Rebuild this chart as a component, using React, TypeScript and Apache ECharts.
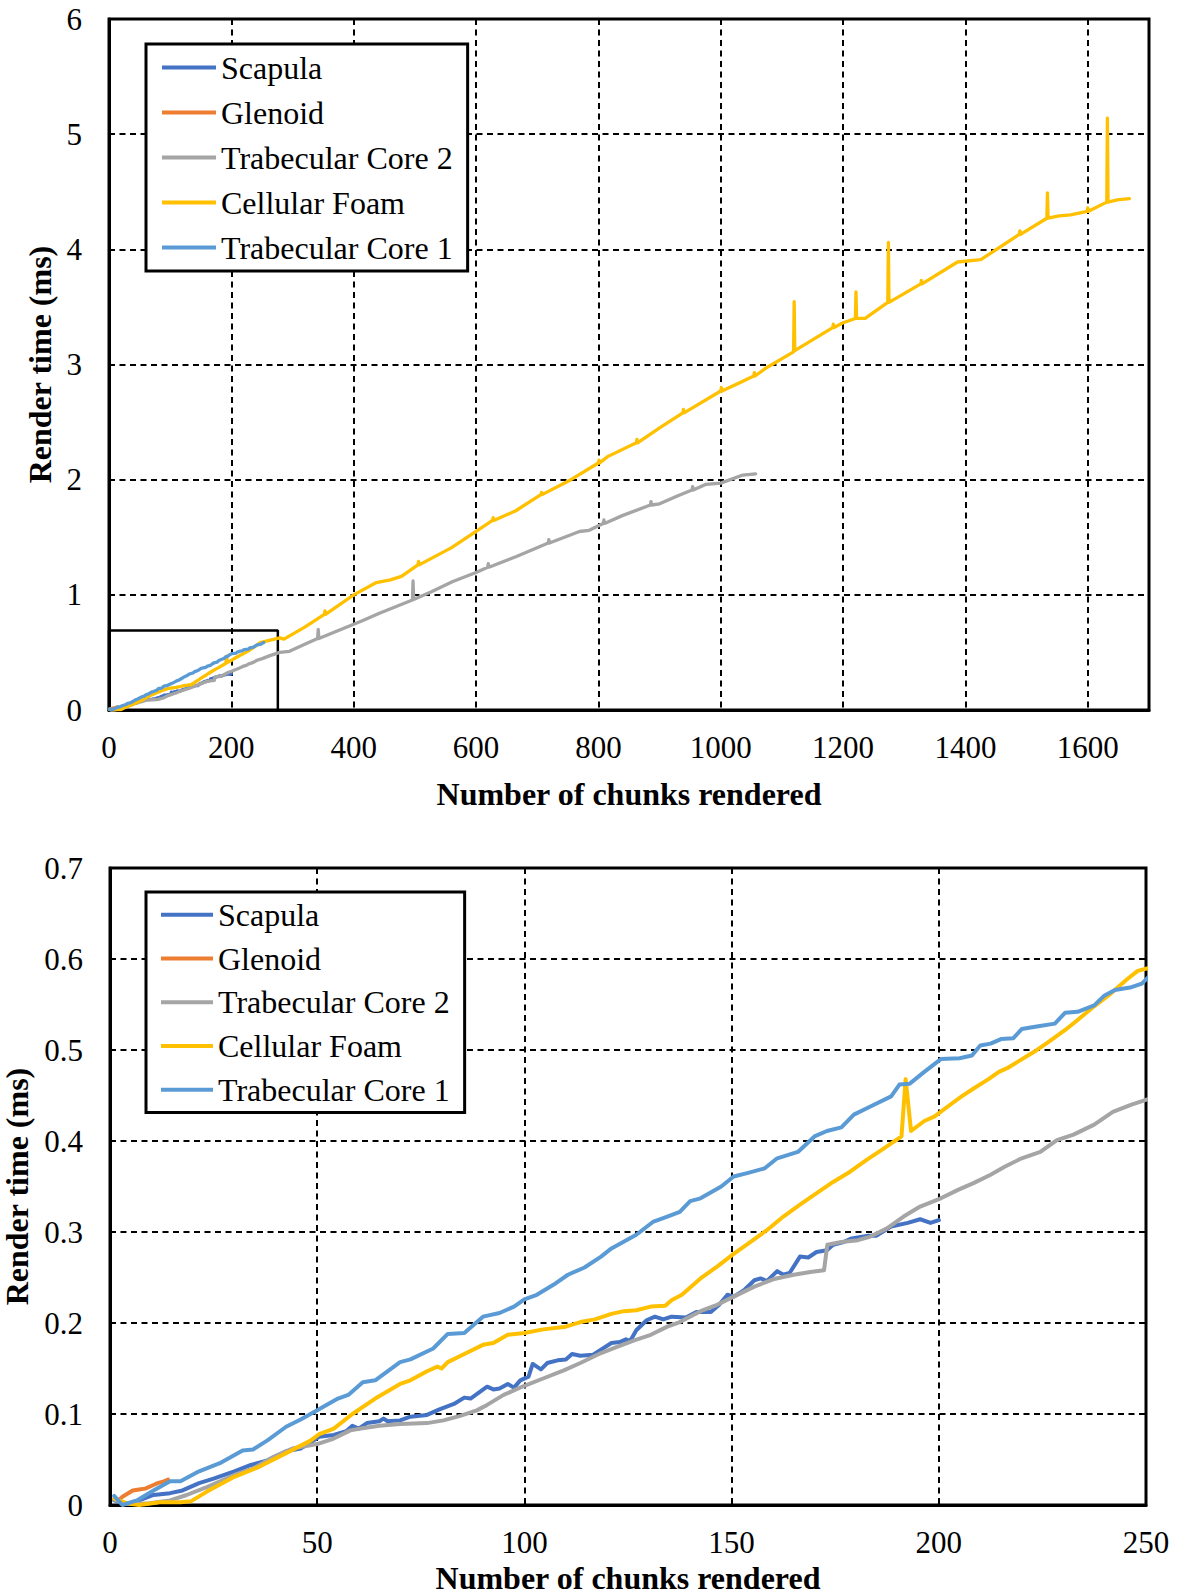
import React, { useEffect, useRef } from 'react';
import * as echarts from 'echarts';

const seriesNames = ['Scapula', 'Glenoid', 'Trabecular Core 2', 'Cellular Foam', 'Trabecular Core 1'];
const seriesColors = ['#4472C4', '#ED7D31', '#A5A5A5', '#FFC000', '#5B9BD5'];

const scapula: [number, number][] = [
  [1, 0.005], [4, 0.001], [7, 0.005], [10.5, 0.011], [14.5, 0.013], [17.5, 0.016], [21.5, 0.024], [25, 0.029],
  [30, 0.037], [34, 0.044], [38, 0.049], [42.5, 0.059], [46, 0.062], [50.5, 0.075], [54, 0.077], [57, 0.081],
  [58.5, 0.087], [60, 0.084], [62, 0.09], [65, 0.092], [66, 0.095], [67, 0.092], [70, 0.093], [72.5, 0.097],
  [76.5, 0.099], [79.5, 0.105], [83, 0.111], [85.5, 0.118], [87, 0.117], [91, 0.13], [92.5, 0.127], [94, 0.128],
  [96, 0.133], [97.5, 0.129], [99, 0.137], [101, 0.141], [102, 0.155], [104, 0.149], [105.5, 0.156], [108, 0.159],
  [110, 0.16], [111.5, 0.166], [113.5, 0.164], [116.5, 0.165], [121, 0.178], [123, 0.179], [124.5, 0.182],
  [125.5, 0.18], [127, 0.192], [129.5, 0.203], [131.5, 0.207], [133.5, 0.204], [135.5, 0.207], [139, 0.206],
  [141.5, 0.212], [145, 0.212], [147, 0.22], [149, 0.231], [150.5, 0.229], [153, 0.236], [155.5, 0.247],
  [157, 0.249], [158.5, 0.246], [161, 0.257], [162.5, 0.253], [164, 0.255], [166.5, 0.273], [168.5, 0.272],
  [170.5, 0.278], [173, 0.28], [174.5, 0.286], [177, 0.289], [179, 0.293], [183, 0.296], [185, 0.296],
  [188.5, 0.306], [192.5, 0.31], [195.5, 0.314], [198, 0.31], [200, 0.313],
];

const glenoid: [number, number][] = [
  [2, 0.005], [3, 0.009], [5.5, 0.016], [7, 0.017], [8.5, 0.018], [10.5, 0.022], [11.5, 0.024], [13, 0.026], [14, 0.028],
];

const trabecularCore2: [number, number][] = [
  [1, 0.006], [4, 0.001], [9.5, 0.002], [14.5, 0.005], [18.5, 0.011], [23.5, 0.02], [30, 0.033], [34.5, 0.04],
  [39.5, 0.053], [44, 0.062], [50, 0.067], [54, 0.073], [58, 0.082], [60.5, 0.084], [65, 0.087], [70, 0.089],
  [76.5, 0.09], [80.5, 0.093], [84.5, 0.098], [88.5, 0.104], [91, 0.11], [95, 0.121], [100, 0.131], [104.5, 0.139],
  [109.5, 0.148], [113.5, 0.156], [118.5, 0.167], [122.5, 0.174], [126.5, 0.181], [130.5, 0.187], [134.5, 0.196],
  [137.5, 0.201], [142.5, 0.213], [146.5, 0.22], [150.5, 0.229], [155.5, 0.24], [160, 0.248], [165, 0.253],
  [169, 0.256], [172.3, 0.258], [173.1, 0.286], [176.5, 0.289], [180.5, 0.291], [183.5, 0.295], [187.5, 0.304],
  [191.5, 0.317], [195.5, 0.328], [200.5, 0.337], [204.5, 0.346], [208.5, 0.354], [212.5, 0.363], [216, 0.372],
  [220, 0.381], [224.5, 0.388], [228.5, 0.401], [232.5, 0.407], [237.5, 0.418], [242, 0.432], [246.5, 0.44],
  [250.5, 0.446], [262, 0.47], [279, 0.5], [295, 0.51], [320, 0.57], [341, 0.62], [342, 0.7], [343, 0.62],
  [370, 0.68], [400, 0.745], [415, 0.777], [442, 0.84], [496, 0.955], [497, 1.12], [498, 0.96], [527, 1.026],
  [562, 1.116], [600, 1.194], [619, 1.24], [620, 1.27], [621, 1.24], [666, 1.333], [718, 1.45], [719, 1.48],
  [720, 1.45], [769, 1.55], [785, 1.56], [800, 1.6], [808, 1.62], [809, 1.65], [810, 1.62], [840, 1.69],
  [885, 1.78], [886, 1.81], [887, 1.78], [900, 1.79], [930, 1.86], [953, 1.91], [954, 1.94], [955, 1.91],
  [976, 1.96], [1000, 1.97], [1036, 2.04], [1057, 2.05],
];

const cellularFoam: [number, number][] = [
  [1, 0.007], [4, 0.002], [7, 0], [12, 0.003], [17, 0.003], [19.5, 0.004], [23.5, 0.015], [30, 0.031], [36, 0.042],
  [42.5, 0.057], [48.5, 0.071], [50.5, 0.078], [54, 0.084], [58.5, 0.1], [64, 0.117], [70, 0.133], [72.5, 0.137],
  [76.5, 0.147], [79, 0.152], [80, 0.15], [81.5, 0.157], [86, 0.167], [90, 0.176], [92.5, 0.178], [96, 0.187],
  [100, 0.189], [104.5, 0.193], [110, 0.196], [113.5, 0.201], [117, 0.204], [121, 0.21], [124, 0.213], [127, 0.214],
  [130.5, 0.218], [134, 0.219], [135.5, 0.225], [138, 0.231], [142.5, 0.249], [146.5, 0.262], [150.5, 0.276],
  [154.5, 0.289], [158.5, 0.302], [162.5, 0.317], [166.5, 0.33], [170, 0.341], [174.5, 0.355], [178.5, 0.366],
  [182.5, 0.379], [186.5, 0.391], [191, 0.405], [192, 0.468], [193.3, 0.411], [196.5, 0.422], [199, 0.427],
  [202.5, 0.439], [205.5, 0.449], [208.5, 0.458], [212, 0.468], [214.5, 0.476], [216.5, 0.48], [219, 0.487],
  [223, 0.498], [226.5, 0.509], [230.5, 0.522], [233.5, 0.533], [237.5, 0.548], [241.5, 0.562], [245.5, 0.578],
  [248, 0.587], [250.5, 0.59], [262, 0.605], [279, 0.626], [286, 0.615], [320, 0.72], [352, 0.83], [353, 0.86],
  [354, 0.83], [400, 1.0], [437, 1.107], [460, 1.13], [478, 1.16], [505, 1.26], [506, 1.29], [507, 1.26],
  [560, 1.41], [600, 1.55], [627, 1.646], [628, 1.67], [629, 1.646], [665, 1.73], [706, 1.87], [707, 1.89],
  [708, 1.87], [755, 2.0], [800, 2.145], [801, 2.17], [802, 2.145], [815, 2.2], [862, 2.32], [863, 2.35],
  [864, 2.32], [900, 2.45], [938, 2.58], [939, 2.61], [940, 2.58], [1000, 2.77], [1001, 2.8], [1002, 2.77],
  [1030, 2.84], [1054, 2.9], [1055, 2.93], [1056, 2.9], [1074, 2.97], [1119, 3.11], [1120, 3.545], [1121, 3.12],
  [1183, 3.32], [1184, 3.35], [1185, 3.32], [1199, 3.36], [1220, 3.4], [1221, 3.63], [1222, 3.4], [1236, 3.4],
  [1273, 3.54], [1274, 4.06], [1275, 3.54], [1327, 3.7], [1328, 3.73], [1329, 3.7], [1387, 3.89], [1425, 3.91],
  [1488, 4.13], [1489, 4.16], [1490, 4.13], [1533, 4.27], [1534, 4.49], [1535, 4.27], [1553, 4.29], [1572, 4.3],
  [1599, 4.33], [1600, 4.36], [1601, 4.33], [1631, 4.41], [1632, 5.14], [1633, 4.41], [1648, 4.43], [1668, 4.44],
];

const trabecularCore1: [number, number][] = [
  [1, 0.01], [3, 0], [6.5, 0.005], [10.5, 0.016], [14.5, 0.026], [17, 0.026], [21.5, 0.037], [26.5, 0.046],
  [32, 0.06], [34.5, 0.061], [38, 0.071], [42.5, 0.086], [46, 0.094], [50, 0.104], [55, 0.117], [57.5, 0.121],
  [61, 0.135], [64, 0.137], [70, 0.157], [72.5, 0.16], [78, 0.172], [81.5, 0.188], [85.5, 0.189], [90, 0.207],
  [94, 0.211], [97.5, 0.218], [100, 0.226], [103, 0.231], [107, 0.242], [110.5, 0.253], [114.5, 0.261],
  [118.5, 0.273], [121, 0.282], [127, 0.297], [131, 0.311], [134.5, 0.317], [137.5, 0.322], [140, 0.334],
  [142.5, 0.337], [147.5, 0.35], [150.5, 0.361], [154, 0.365], [158, 0.37], [161, 0.381], [166, 0.388],
  [170, 0.405], [173, 0.411], [176.5, 0.415], [179.5, 0.429], [183.5, 0.438], [188.5, 0.449], [190.5, 0.462],
  [193, 0.463], [196.5, 0.476], [200.5, 0.49], [205, 0.491], [208, 0.494], [210, 0.505], [212.5, 0.507],
  [215, 0.512], [218, 0.513], [220, 0.523], [224, 0.526], [228, 0.529], [230.5, 0.541], [233.5, 0.542],
  [237.5, 0.549], [240, 0.56], [242.5, 0.566], [246.5, 0.569], [249, 0.573], [251, 0.582], [253, 0.585],
];

const allSeries = [scapula, glenoid, trabecularCore2, cellularFoam, trabecularCore1];

// overview (top) axes and zoomed (bottom) axes
const overviewX = { min: 0, max: 1700, interval: 200 };
const overviewY = { min: 0, max: 6, interval: 1 };
const zoomX = { min: 0, max: 250, interval: 50 };
const zoomY = { min: 0, max: 0.7, interval: 0.1 };
// region of the overview shown in the zoomed chart (inset box)
const insetBoxCorners: [number, number][] = [[0, 0], [0, 0.69], [276, 0.69], [276, 0]];

const xTitle = 'Number of chunks rendered';
const yTitle = 'Render time (ms)';

const FONT = 'Liberation Serif';

function buildOption() {
  const axisLabel = { color: '#000', fontFamily: FONT, fontSize: 31 };
  const splitLine = { show: true, lineStyle: { color: '#000', width: 2, type: [6, 4.5] as any } };
  const axisLine = { show: true, onZero: false, lineStyle: { color: '#000', width: 3 } };
  const nameStyle = { color: '#000', fontFamily: FONT, fontSize: 32, fontWeight: 'bold' as const };

  const lineSeries = (gi: number, width: number) =>
    allSeries.map((d, i) => ({
      type: 'line',
      name: seriesNames[i],
      xAxisIndex: gi,
      yAxisIndex: gi,
      data: d,
      symbol: 'none',
      showSymbol: false,
      clip: true,
      lineStyle: { color: seriesColors[i], width, cap: 'round', join: 'round' },
      itemStyle: { color: seriesColors[i] },
      z: 3 + i,
      silent: true,
    }));

  const legendBase = {
    data: seriesNames,
    orient: 'vertical',
    icon: 'rect',
    itemWidth: 54,
    itemHeight: 4,
    itemGap: 0,
    borderColor: '#000',
    borderWidth: 3,
    backgroundColor: '#fff',
    selectedMode: false,
    z: 20,
  };

  const gridBase = {
    show: true,
    borderColor: '#000',
    borderWidth: 3,
    containLabel: false,
    outerBoundsMode: 'none',
  };

  return {
    animation: false,
    backgroundColor: '#fff',
    textStyle: { fontFamily: FONT },
    grid: [
      { ...gridBase, left: 109, top: 19, width: 1040, height: 691 },
      { ...gridBase, left: 110, top: 868, width: 1036, height: 637 },
    ],
    xAxis: [
      {
        type: 'value', gridIndex: 0, ...overviewX,
        axisLine, axisTick: { show: false }, splitLine,
        axisLabel: { ...axisLabel, margin: 22, showMaxLabel: false, formatter: (v: number) => (v > 1600 ? '' : String(v)) },
        name: xTitle, nameLocation: 'middle', nameGap: 68, nameTextStyle: nameStyle,
      },
      {
        type: 'value', gridIndex: 1, ...zoomX,
        axisLine, axisTick: { show: false }, splitLine,
        axisLabel: { ...axisLabel, margin: 22 },
        name: xTitle, nameLocation: 'middle', nameGap: 57, nameTextStyle: nameStyle,
      },
    ],
    yAxis: [
      {
        type: 'value', gridIndex: 0, ...overviewY,
        axisLine, axisTick: { show: false }, splitLine,
        axisLabel: { ...axisLabel, margin: 27 },
        name: yTitle, nameLocation: 'middle', nameGap: 52, nameTextStyle: nameStyle,
      },
      {
        type: 'value', gridIndex: 1, ...zoomY,
        axisLine, axisTick: { show: false }, splitLine,
        axisLabel: { ...axisLabel, margin: 27 },
        name: yTitle, nameLocation: 'middle', nameGap: 74, nameTextStyle: nameStyle,
      },
    ],
    legend: [
      {
        ...legendBase,
        left: 146, top: 44,
        padding: [1, 15, 1, 16],
        textStyle: { color: '#000', fontFamily: FONT, fontSize: 32, lineHeight: 45 },
      },
      {
        ...legendBase,
        left: 146, top: 892,
        padding: [1, 15, 1, 15],
        itemWidth: 52,
        textStyle: { color: '#000', fontFamily: FONT, fontSize: 32, lineHeight: 43.7 },
      },
    ],
    series: [
      {
        type: 'line',
        name: 'inset',
        xAxisIndex: 0,
        yAxisIndex: 0,
        data: insetBoxCorners,
        symbol: 'none',
        showSymbol: false,
        lineStyle: { color: '#000', width: 2.5 },
        itemStyle: { color: '#000' },
        z: 2,
        silent: true,
      },
      ...lineSeries(0, 3.3),
      ...lineSeries(1, 4),
    ],
  };
}

export default function App() {
  const ref = useRef<HTMLDivElement>(null);
  useEffect(() => {
    if (!ref.current) return;
    const chart = echarts.init(ref.current, undefined, { renderer: 'svg' });
    chart.setOption(buildOption() as any);
    return () => chart.dispose();
  }, []);
  return (
    <div
      ref={ref}
      style={{ position: 'absolute', left: 0, top: 0, width: 1184, height: 1596, background: '#fff' }}
    />
  );
}
